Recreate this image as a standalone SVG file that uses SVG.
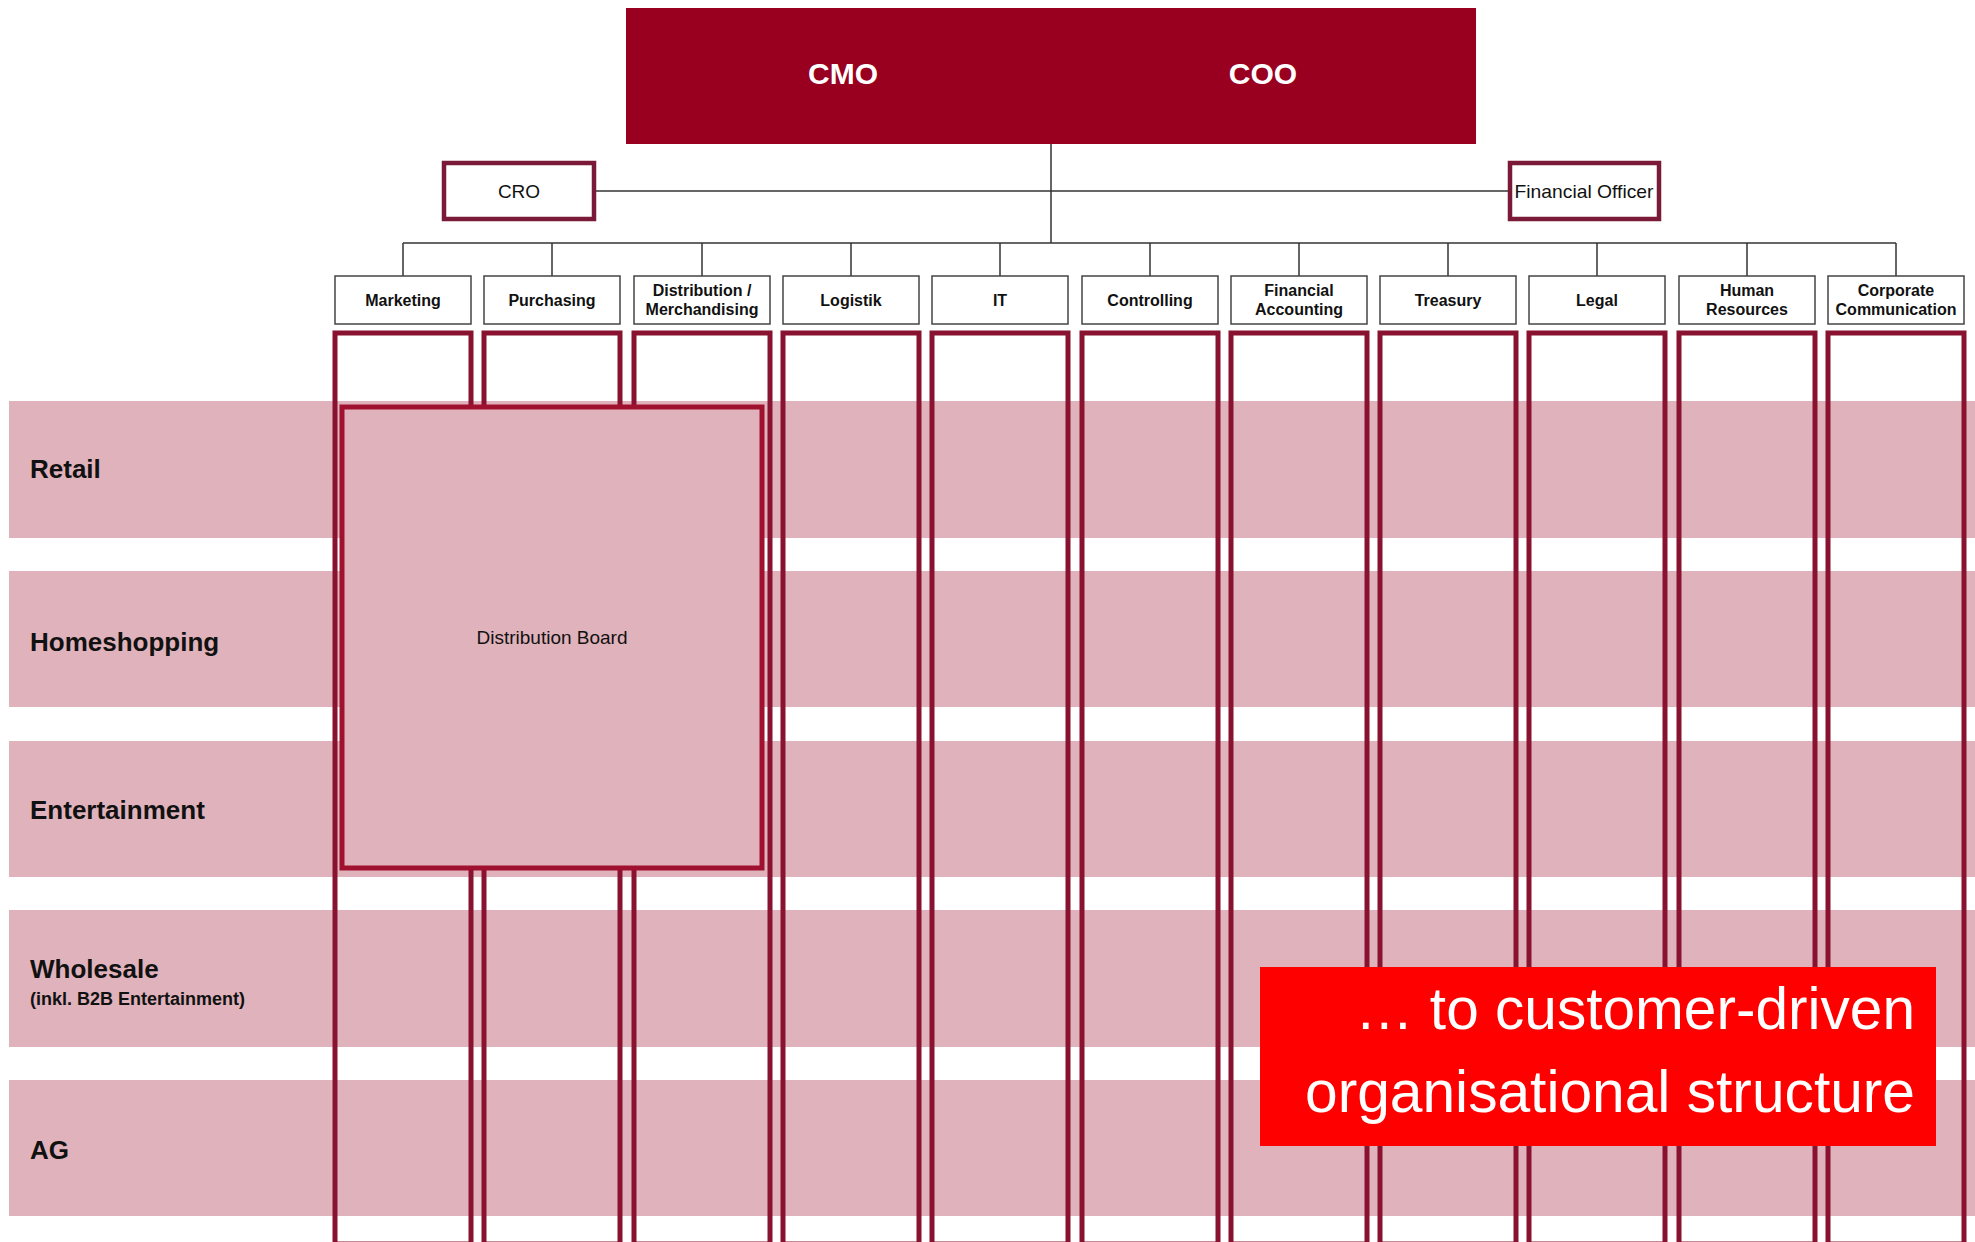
<svg xmlns="http://www.w3.org/2000/svg" width="1975" height="1242" viewBox="0 0 1975 1242">
<style>
.band{fill:#e0b2bb}
.bl{font-family:"Liberation Sans",Arial,sans-serif;font-weight:bold;font-size:26px;fill:#111}
.col{fill:none;stroke:#88122f;stroke-width:5}
.dept{fill:#fff;stroke:#444;stroke-width:1.5}
.dt{font-family:"Liberation Sans",Arial,sans-serif;font-weight:bold;font-size:16px;fill:#111;text-anchor:middle}
.off{fill:#fff;stroke:#7a1a38;stroke-width:4.5}
.ot{font-family:"Liberation Sans",Arial,sans-serif;font-size:19px;fill:#111;text-anchor:middle}
.conn{stroke:#333;stroke-width:1.5;fill:none}
</style>
<rect width="1975" height="1242" fill="#fff"/>
<g id="bands">
<rect class="band" x="9" y="401" width="1966" height="137"/>
<rect class="band" x="9" y="571" width="1966" height="136"/>
<rect class="band" x="9" y="741" width="1966" height="136"/>
<rect class="band" x="9" y="910" width="1966" height="137"/>
<rect class="band" x="9" y="1080" width="1966" height="136"/>
</g>
<g id="band-labels">
<text class="bl" x="30" y="478">Retail</text>
<text class="bl" x="30" y="651">Homeshopping</text>
<text class="bl" x="30" y="819">Entertainment</text>
<text class="bl" x="30" y="978">Wholesale</text>
<text class="bl" x="30" y="1005" style="font-size:18px">(inkl. B2B Entertainment)</text>
<text class="bl" x="30" y="1159">AG</text>
</g>
<g id="columns">
<rect class="col" x="335" y="333" width="136" height="911"/>
<rect class="col" x="484" y="333" width="136" height="911"/>
<rect class="col" x="634" y="333" width="136" height="911"/>
<rect class="col" x="783" y="333" width="136" height="911"/>
<rect class="col" x="932" y="333" width="136" height="911"/>
<rect class="col" x="1082" y="333" width="136" height="911"/>
<rect class="col" x="1231" y="333" width="136" height="911"/>
<rect class="col" x="1380" y="333" width="136" height="911"/>
<rect class="col" x="1529" y="333" width="136" height="911"/>
<rect class="col" x="1679" y="333" width="136" height="911"/>
<rect class="col" x="1828" y="333" width="136" height="911"/>
</g>
<g id="connectors">
<line class="conn" x1="1051" y1="144" x2="1051" y2="243"/>
<line class="conn" x1="595" y1="191" x2="1508" y2="191"/>
<line class="conn" x1="403" y1="243" x2="1896" y2="243"/>
<line class="conn" x1="403" y1="243" x2="403" y2="276"/>
<line class="conn" x1="552" y1="243" x2="552" y2="276"/>
<line class="conn" x1="702" y1="243" x2="702" y2="276"/>
<line class="conn" x1="851" y1="243" x2="851" y2="276"/>
<line class="conn" x1="1000" y1="243" x2="1000" y2="276"/>
<line class="conn" x1="1150" y1="243" x2="1150" y2="276"/>
<line class="conn" x1="1299" y1="243" x2="1299" y2="276"/>
<line class="conn" x1="1448" y1="243" x2="1448" y2="276"/>
<line class="conn" x1="1597" y1="243" x2="1597" y2="276"/>
<line class="conn" x1="1747" y1="243" x2="1747" y2="276"/>
<line class="conn" x1="1896" y1="243" x2="1896" y2="276"/>
</g>
<g id="board">
<rect x="626" y="8" width="850" height="136" fill="#99001f"/>
<text x="843" y="84" style="font-family:'Liberation Sans',Arial,sans-serif;font-weight:bold;font-size:30px;fill:#fff;text-anchor:middle">CMO</text>
<text x="1263" y="84" style="font-family:'Liberation Sans',Arial,sans-serif;font-weight:bold;font-size:30px;fill:#fff;text-anchor:middle">COO</text>
</g>
<g id="cro">
<rect class="off" x="444" y="163" width="150" height="56"/>
<text class="ot" x="519" y="198">CRO</text>
</g>
<g id="financial-officer">
<rect class="off" x="1510" y="163" width="149" height="56"/>
<text class="ot" x="1584" y="198" textLength="139" lengthAdjust="spacingAndGlyphs">Financial Officer</text>
</g>
<g id="dept-marketing"><rect class="dept" x="335" y="276" width="136" height="48"/><text class="dt" x="403" y="306">Marketing</text></g>
<g id="dept-purchasing"><rect class="dept" x="484" y="276" width="136" height="48"/><text class="dt" x="552" y="306">Purchasing</text></g>
<g id="dept-distribution"><rect class="dept" x="634" y="276" width="136" height="48"/><text class="dt" x="702" y="296">Distribution /</text><text class="dt" x="702" y="315">Merchandising</text></g>
<g id="dept-logistik"><rect class="dept" x="783" y="276" width="136" height="48"/><text class="dt" x="851" y="306">Logistik</text></g>
<g id="dept-it"><rect class="dept" x="932" y="276" width="136" height="48"/><text class="dt" x="1000" y="306">IT</text></g>
<g id="dept-controlling"><rect class="dept" x="1082" y="276" width="136" height="48"/><text class="dt" x="1150" y="306">Controlling</text></g>
<g id="dept-finacc"><rect class="dept" x="1231" y="276" width="136" height="48"/><text class="dt" x="1299" y="296">Financial</text><text class="dt" x="1299" y="315">Accounting</text></g>
<g id="dept-treasury"><rect class="dept" x="1380" y="276" width="136" height="48"/><text class="dt" x="1448" y="306">Treasury</text></g>
<g id="dept-legal"><rect class="dept" x="1529" y="276" width="136" height="48"/><text class="dt" x="1597" y="306">Legal</text></g>
<g id="dept-hr"><rect class="dept" x="1679" y="276" width="136" height="48"/><text class="dt" x="1747" y="296">Human</text><text class="dt" x="1747" y="315">Resources</text></g>
<g id="dept-corpcomm"><rect class="dept" x="1828" y="276" width="136" height="48"/><text class="dt" x="1896" y="296">Corporate</text><text class="dt" x="1896" y="315">Communication</text></g>
<g id="distribution-board">
<rect x="342" y="407" width="420" height="461" fill="#e0b2bb" stroke="#a0102f" stroke-width="5"/>
<text class="ot" x="552" y="644">Distribution Board</text>
</g>
<g id="callout">
<rect x="1260" y="967" width="676" height="179" fill="#ff0000"/>
<text x="1915" y="1029" textLength="560" lengthAdjust="spacingAndGlyphs" style="font-family:'Liberation Sans',Arial,sans-serif;font-size:60px;fill:#fff;text-anchor:end">… to customer-driven</text>
<text x="1915" y="1112" textLength="610" lengthAdjust="spacingAndGlyphs" style="font-family:'Liberation Sans',Arial,sans-serif;font-size:60px;fill:#fff;text-anchor:end">organisational structure</text>
</g>
</svg>
